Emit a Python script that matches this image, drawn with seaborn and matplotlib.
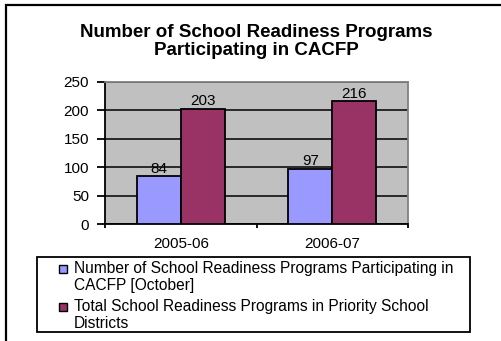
import matplotlib
matplotlib.use("Agg")
import matplotlib.pyplot as plt
import seaborn as sns
import pandas as pd
from matplotlib.patches import Rectangle

years = ["2005-06", "2006-07"]
series_names = [
    "Number of School Readiness Programs Participating in\nCACFP [October]",
    "Total School Readiness Programs in Priority School\nDistricts",
]
participating = [84, 97]
total_priority = [203, 216]
y_ticks = [0, 50, 100, 150, 200, 250]
colors = ["#9999FF", "#993366"]

df = pd.DataFrame({
    "year": years * 2,
    "series": [series_names[0]] * 2 + [series_names[1]] * 2,
    "value": participating + total_priority,
})

sns.set_theme(style="white")
plt.rcParams["font.family"] = ["Liberation Sans", "DejaVu Sans"]
plt.rcParams["text.color"] = "black"
plt.rcParams["xtick.color"] = "black"
plt.rcParams["ytick.color"] = "black"

W, H = 501, 341
fig = plt.figure(figsize=(W / 100, H / 100), dpi=100)
fig.patch.set_facecolor("white")

x0, x1 = 105, 408
yt, yb = 82, 224
ax = fig.add_axes([x0 / W, 1 - yb / H, (x1 - x0) / W, (yb - yt) / H])

sns.barplot(data=df, x="year", y="value", hue="series", palette=colors,
            saturation=1, width=0.58, edgecolor="black", linewidth=1.3,
            ax=ax, legend=False, zorder=3)

ax.set_facecolor("#C0C0C0")
ax.set_ylim(0, 250)
ax.set_xlim(-0.5, 1.5)
ax.set_yticks(y_ticks)
ax.set_yticklabels([str(v) for v in y_ticks], fontsize=11)
ax.yaxis.grid(True, color="black", linewidth=1.1, zorder=1)
ax.set_axisbelow(True)
ax.set_xlabel("")
ax.set_ylabel("")

ax.set_xticks([-0.5, 0.5, 1.5])
ax.set_xticklabels([])
ax.set_xticks([0, 1], minor=True)
ax.set_xticklabels(years, minor=True, fontsize=11)
ax.tick_params(axis="x", which="major", direction="out", length=3, width=1.3,
               color="black", bottom=True)
ax.tick_params(axis="x", which="minor", length=0, pad=9)
ax.tick_params(axis="y", direction="out", length=5.5, width=1.3, color="black",
               left=True, pad=6)

for side in ["left", "bottom"]:
    ax.spines[side].set_color("black")
    ax.spines[side].set_linewidth(1.3)
for side in ["top", "right"]:
    ax.spines[side].set_color("#808080")
    ax.spines[side].set_linewidth(1.3)

for cont in ax.containers:
    ax.bar_label(cont, fontsize=11, padding=0.5, color="black")

fig.text(256 / W, 1 - 41.5 / H,
         "Number of School Readiness Programs\nParticipating in CACFP",
         ha="center", va="center", fontsize=13.5, fontweight="bold",
         linespacing=1.1, color="black")

# Legend (drawn manually so markers align with first text line)
fig.patches.append(Rectangle((37 / W, 1 - 332 / H), (470 - 37) / W, 75 / H,
                             transform=fig.transFigure, fill=False,
                             edgecolor="black", linewidth=1.3))
entry_y = [269, 307]
for c, name, yy in zip(colors, series_names, entry_y):
    fig.patches.append(Rectangle((59 / W, 1 - (yy + 4) / H), 8 / W, 8 / H,
                                 transform=fig.transFigure, facecolor=c,
                                 edgecolor="black", linewidth=1.0))
    fig.text(74 / W, 1 - (yy - 8) / H, name, ha="left", va="top",
             fontsize=11.2, linespacing=1.2, color="black")

fig.patches.append(Rectangle((6 / W, -0.1), 1.2, 1 - 5 / H + 0.1,
                             transform=fig.transFigure, fill=False,
                             edgecolor="black", linewidth=1.6))

fig.savefig("out.png", dpi=100)
